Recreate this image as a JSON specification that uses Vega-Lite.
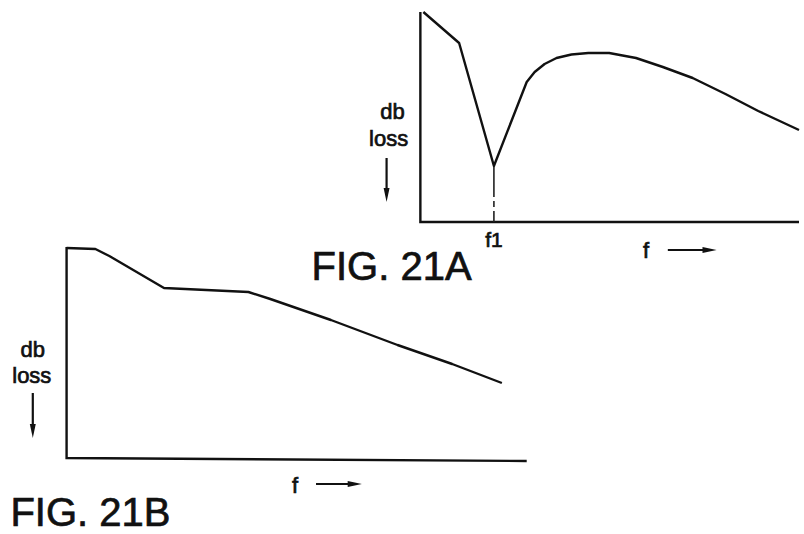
{
  "$schema": "https://vega.github.io/schema/vega-lite/v6.json",
  "width": 804,
  "height": 534,
  "autosize": {"type": "fit", "contains": "padding"},
  "padding": 0,
  "background": "white",
  "config": {"view": {"stroke": null}},
  "datasets": {
    "curves": [
      {"fig": "21A", "i": 0, "f": 426, "loss": 12},
      {"fig": "21A", "i": 1, "f": 462, "loss": 43},
      {"fig": "21A", "i": 2, "f": 497, "loss": 166},
      {"fig": "21A", "i": 3, "f": 530, "loss": 82},
      {"fig": "21A", "i": 4, "f": 538, "loss": 72},
      {"fig": "21A", "i": 5, "f": 548, "loss": 64},
      {"fig": "21A", "i": 6, "f": 560, "loss": 58},
      {"fig": "21A", "i": 7, "f": 575, "loss": 54.5},
      {"fig": "21A", "i": 8, "f": 592, "loss": 53},
      {"fig": "21A", "i": 9, "f": 613, "loss": 53},
      {"fig": "21A", "i": 10, "f": 640, "loss": 58},
      {"fig": "21A", "i": 11, "f": 667, "loss": 67},
      {"fig": "21A", "i": 12, "f": 697, "loss": 78},
      {"fig": "21A", "i": 13, "f": 730, "loss": 94},
      {"fig": "21A", "i": 14, "f": 763, "loss": 111},
      {"fig": "21A", "i": 15, "f": 804, "loss": 130},
      {"fig": "21B", "i": 0, "f": 67, "loss": 248},
      {"fig": "21B", "i": 1, "f": 96, "loss": 249},
      {"fig": "21B", "i": 2, "f": 110, "loss": 256},
      {"fig": "21B", "i": 3, "f": 165, "loss": 288},
      {"fig": "21B", "i": 4, "f": 250, "loss": 292},
      {"fig": "21B", "i": 5, "f": 272, "loss": 299},
      {"fig": "21B", "i": 6, "f": 333, "loss": 320},
      {"fig": "21B", "i": 7, "f": 400, "loss": 345},
      {"fig": "21B", "i": 8, "f": 455, "loss": 364},
      {"fig": "21B", "i": 9, "f": 505, "loss": 383}
    ],
    "frames": [
      {"fig": "21A", "i": 0, "f": 423, "loss": 12},
      {"fig": "21A", "i": 1, "f": 423, "loss": 222},
      {"fig": "21A", "i": 2, "f": 804, "loss": 222},
      {"fig": "21B", "i": 0, "f": 67, "loss": 247},
      {"fig": "21B", "i": 1, "f": 67, "loss": 458},
      {"fig": "21B", "i": 2, "f": 530, "loss": 461}
    ],
    "marker": [
      {"i": 0, "f": 497, "loss": 167},
      {"i": 1, "f": 497, "loss": 222}
    ],
    "arrows": [
      {"id": "a1", "dir": "down", "f": 389, "loss": 158, "f2": 389, "loss2": 192, "hf": 389, "hl": 195},
      {"id": "a2", "dir": "down", "f": 33, "loss": 393, "f2": 33, "loss2": 428, "hf": 33, "hl": 431},
      {"id": "a3", "dir": "right", "f": 672, "loss": 250, "f2": 710, "loss2": 250, "hf": 714, "hl": 250},
      {"id": "a4", "dir": "right", "f": 318, "loss": 484, "f2": 353, "loss2": 484, "hf": 357, "hl": 484}
    ],
    "labels": [
      {"text": "db", "f": 395, "loss": 112, "size": 22},
      {"text": "loss", "f": 391, "loss": 139, "size": 22},
      {"text": "db", "f": 33, "loss": 350, "size": 22},
      {"text": "loss", "f": 32, "loss": 376, "size": 22},
      {"text": "f1", "f": 497, "loss": 241, "size": 21},
      {"text": "f", "f": 650, "loss": 251, "size": 22},
      {"text": "f", "f": 297, "loss": 486, "size": 22},
      {"text": "FIG. 21A", "f": 394, "loss": 268, "size": 40},
      {"text": "FIG. 21B", "f": 91, "loss": 514, "size": 40}
    ]
  },
  "layer": [
    {
      "data": {"name": "frames"},
      "mark": {"type": "line", "color": "#111", "strokeWidth": 2.4},
      "encoding": {
        "x": {"field": "f", "type": "quantitative", "scale": {"domain": [0, 804], "nice": false, "zero": false}, "axis": null},
        "y": {"field": "loss", "type": "quantitative", "scale": {"domain": [0, 534], "reverse": true, "nice": false, "zero": false}, "axis": null},
        "detail": {"field": "fig"},
        "order": {"field": "i"}
      }
    },
    {
      "data": {"name": "curves"},
      "mark": {"type": "line", "color": "#111", "strokeWidth": 2.4, "strokeJoin": "round"},
      "encoding": {
        "x": {"field": "f", "type": "quantitative"},
        "y": {"field": "loss", "type": "quantitative"},
        "detail": {"field": "fig"},
        "order": {"field": "i"}
      }
    },
    {
      "data": {"name": "marker"},
      "mark": {"type": "line", "color": "#222", "strokeWidth": 1.6, "strokeDash": [30, 4, 6, 4]},
      "encoding": {
        "x": {"field": "f", "type": "quantitative"},
        "y": {"field": "loss", "type": "quantitative"},
        "order": {"field": "i"}
      }
    },
    {
      "data": {"name": "arrows"},
      "mark": {"type": "rule", "color": "#111", "strokeWidth": 2.2},
      "encoding": {
        "x": {"field": "f", "type": "quantitative"},
        "y": {"field": "loss", "type": "quantitative"},
        "x2": {"field": "f2"},
        "y2": {"field": "loss2"}
      }
    },
    {
      "data": {"name": "arrows"},
      "mark": {"type": "point", "filled": true, "color": "#111", "opacity": 1, "size": 200},
      "encoding": {
        "x": {"field": "hf", "type": "quantitative"},
        "y": {"field": "hl", "type": "quantitative"},
        "shape": {"field": "dir", "type": "nominal", "scale": {"domain": ["down", "right"], "range": ["M-0.42,-1L0.42,-1L0,1Z", "M-1,-0.42L1,0L-1,0.42Z"]}, "legend": null}
      }
    },
    {
      "data": {"name": "labels"},
      "mark": {"type": "text", "font": "Liberation Sans", "color": "#111", "stroke": "#111", "strokeWidth": 0.7, "align": "center", "baseline": "middle"},
      "encoding": {
        "x": {"field": "f", "type": "quantitative"},
        "y": {"field": "loss", "type": "quantitative"},
        "text": {"field": "text"},
        "size": {"field": "size", "type": "quantitative", "scale": null}
      }
    }
  ]
}
